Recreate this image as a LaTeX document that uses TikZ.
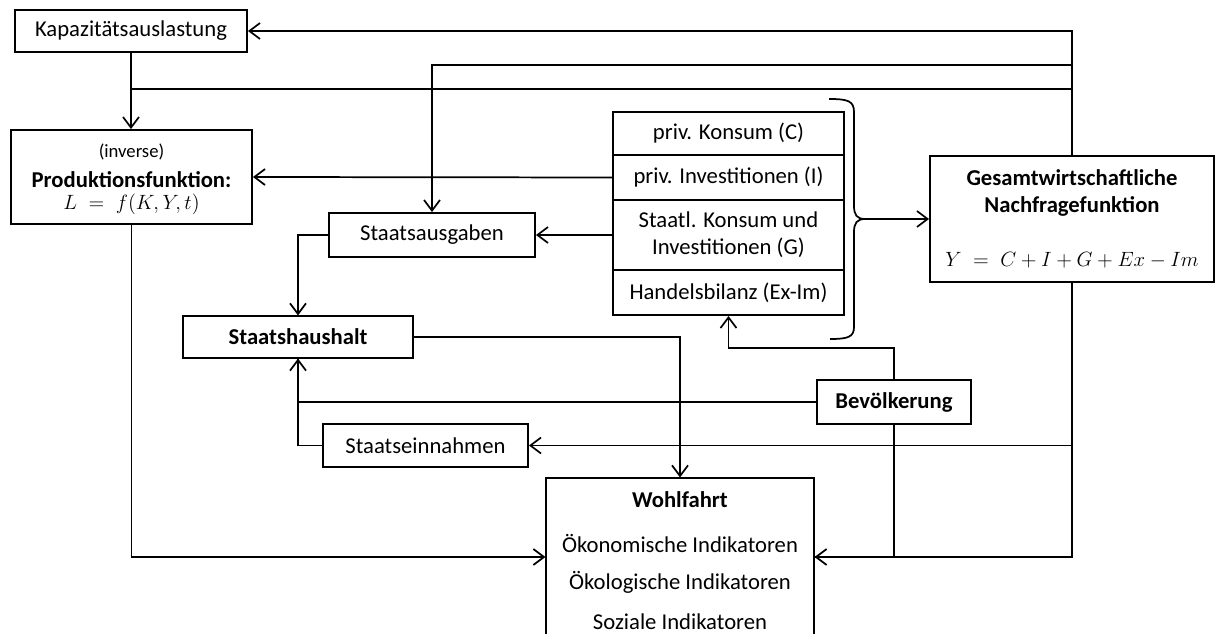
\RequirePackage{fix-cm}
\documentclass[tikz,border=0pt]{standalone}
\usepackage{fontspec}
\setmainfont{Carlito}
\usetikzlibrary{arrows.meta,calc}
\newcommand\mathsz{\fontsize{15.5}{18}\selectfont}
\begin{document}
\begin{tikzpicture}[x=0.75pt,y=-0.75pt,
  txt/.style={font=\fontsize{17}{20.5}\selectfont},
  box/.style={draw,line width=1.4pt,rectangle,inner sep=0pt,align=center,txt},
  thinbox/.style={box,line width=0.8pt},
  lbl/.style={inner sep=0pt,txt},
  conn/.style={line width=1.3pt},
  arr/.style={conn,-{Straight Barb[length=8pt,width=12pt]}}]
\clip (0,0) rectangle (1215,634);
\fill[white] (0,0) rectangle (1215,634);

% nodes
\node[box,minimum width=180.75pt,minimum height=70.5pt] (prod) at (131.5,177) {};
\node[lbl,align=center] (prodt) at (131.5,179.5)
  {{\fontsize{14}{16}\selectfont (inverse)}\\[2pt] \textbf{Produktionsfunktion:}\\[-4pt] {\mathsz$L\;=\;f(K,Y,t)$}};
\node[box,minimum width=174pt,minimum height=31.5pt] (kap) at (131,31) {Kapazitätsauslastung};
\node[box,minimum width=173.25pt,minimum height=32.25pt] (rowC) at (728.5,133.5) {priv. Konsum (C)};
\node[box,minimum width=173.25pt,minimum height=33.75pt] (rowI) at (728.5,177.5) {priv. Investitionen (I)};
\node[box,minimum width=173.25pt,minimum height=52.5pt] (rowG) at (728.5,235) {Staatl. Konsum und\\Investitionen (G)};
\node[box,minimum width=173.25pt,minimum height=33.75pt] (rowH) at (728.5,292.5) {Handelsbilanz (Ex-Im)};
\node[box,minimum width=213pt,minimum height=94.5pt] (ges) at (1072,219)
  {\textbf{Gesamtwirtschaftliche}\\\textbf{Nachfragefunktion}\\[20pt] {\mathsz$Y\;=\;C+I+G+Ex-Im$}};
\node[box,minimum width=154.5pt,minimum height=33pt] (sa) at (432,235) {Staatsausgaben};
\node[thinbox,minimum width=172.5pt,minimum height=31.5pt] (sh) at (298,337) {\textbf{Staatshaushalt}};
\node[box,minimum width=115.5pt,minimum height=33pt] (bev) at (894,402) {\textbf{Bevölkerung}};
\node[box,minimum width=153.75pt,minimum height=32.25pt] (se) at (425.5,445.5) {Staatseinnahmen};
\node[thinbox,minimum width=201pt,minimum height=118.5pt] (wf) at (680,557) {};
\node[lbl] (wft) at (680,500) {\textbf{Wohlfahrt}};
\node[lbl] (wf1) at (680,543) {Ökonomische Indikatoren};
\node[lbl] (wf2) at (680,582) {Ökologische Indikatoren};
\node[lbl] (wf3) at (680,622) {Soziale Indikatoren};

% brace
\coordinate (brace) at (865,219);
\draw[conn] (829,99) .. controls (848,99) and (854,101) .. (854,112) -- (854,206)
  .. controls (854,215) and (857,219) .. (brace)
  .. controls (857,219) and (854,223) .. (854,232) -- (854,327)
  .. controls (854,337) and (848,339) .. (830,339);
\draw[arr] (brace) -- (ges.west);

% connectors
\coordinate (j1) at (432,65);
\coordinate (j2) at (131.5,89);
\coordinate (j3) at (894,348);
\draw[arr] (ges.north) |- (kap.east);
\draw[arr] (ges.north) |- (j1) -- (sa.north);
\draw[conn] (ges.north) |- (j2);
\draw[arr] (kap.south) -- (kap.south |- prod.north);
\draw[arr] (rowI.west) -- (prod.east);
\draw[arr] (rowG.west) -- (sa.east);
\draw[arr] (sa.west) -| (sh.north);
\draw[arr] (sh.east) -| (wf.north);
\draw[arr] (bev.west) -| (sh.south);
\draw[conn] (se.west) -| (sh.south);
\draw[arr] (bev.north) -- (j3) -| (rowH.south);
\draw[arr] (ges.south) |- (se.east);
\draw[arr] (ges.south) |- (wf.east);
\draw[conn] (bev.south) |- (wf.east);
\draw[arr] (prod.south) |- (wf.west);
\end{tikzpicture}
\end{document}
